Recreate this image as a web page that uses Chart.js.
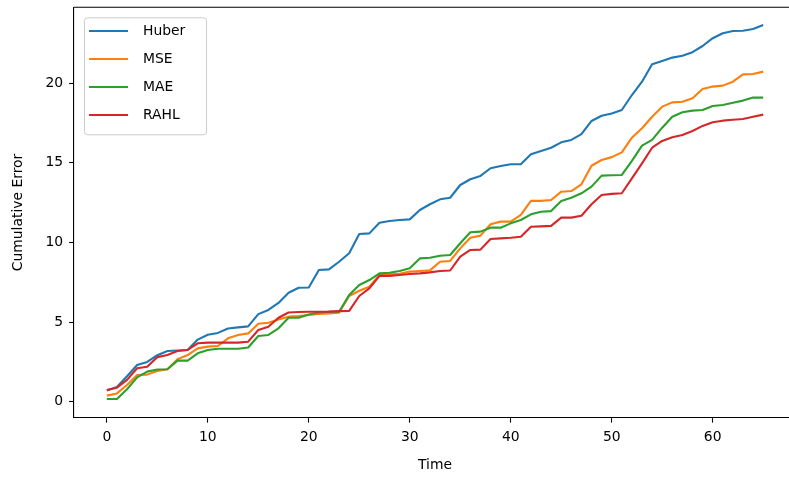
<!DOCTYPE html>
<html>
<head>
<meta charset="utf-8">
<script src="https://cdn.jsdelivr.net/npm/chart.js@4/dist/chart.umd.min.js"></script>
<style>
  html, body { margin: 0; padding: 0; background: #fff; overflow: hidden; }
  #wrap { width: 789px; height: 479px; position: relative; overflow: hidden; }
  #c { position: absolute; left: 0; top: 0; }
</style>
</head>
<body>
<div id="wrap"><canvas id="c" width="800" height="479"></canvas></div>
<script>
const time = [0,1,2,3,4,5,6,7,8,9,10,11,12,13,14,15,16,17,18,19,20,21,22,23,24,25,26,27,28,29,30,31,32,33,34,35,36,37,38,39,40,41,42,43,44,45,46,47,48,49,50,51,52,53,54,55,56,57,58,59,60,61,62,63,64,65];

const huber = [0.70,0.92,1.60,2.30,2.50,2.92,3.18,3.22,3.25,3.90,4.20,4.32,4.60,4.67,4.73,5.50,5.76,6.20,6.84,7.16,7.17,8.27,8.31,8.79,9.32,10.53,10.57,11.24,11.35,11.41,11.45,12.04,12.40,12.71,12.81,13.61,13.97,14.18,14.66,14.80,14.91,14.92,15.54,15.75,15.95,16.29,16.44,16.80,17.63,17.96,18.10,18.32,19.26,20.10,21.19,21.40,21.61,21.73,21.95,22.34,22.83,23.14,23.28,23.30,23.41,23.66];

const mse = [0.38,0.52,1.05,1.68,1.70,1.93,2.04,2.67,2.93,3.35,3.46,3.50,3.98,4.19,4.29,4.90,4.96,5.17,5.34,5.38,5.45,5.51,5.55,5.59,6.64,6.97,7.22,7.96,8.00,8.04,8.17,8.21,8.25,8.79,8.84,9.63,10.30,10.43,11.14,11.31,11.31,11.73,12.61,12.61,12.67,13.19,13.23,13.65,14.82,15.18,15.36,15.66,16.58,17.17,17.90,18.53,18.80,18.84,19.06,19.64,19.79,19.85,20.10,20.56,20.58,20.73];

const mae = [0.17,0.17,0.78,1.53,1.89,2.02,2.04,2.58,2.58,3.04,3.25,3.33,3.33,3.33,3.40,4.13,4.19,4.61,5.27,5.27,5.48,5.60,5.65,5.65,6.70,7.33,7.64,8.06,8.10,8.21,8.38,9.00,9.04,9.17,9.21,9.95,10.64,10.68,10.93,10.93,11.20,11.41,11.77,11.93,11.97,12.61,12.81,13.09,13.51,14.20,14.22,14.24,15.12,16.08,16.44,17.21,17.90,18.18,18.28,18.32,18.57,18.63,18.78,18.91,19.10,19.10];

const rahl = [0.73,0.88,1.37,2.10,2.20,2.80,2.93,3.18,3.25,3.67,3.71,3.71,3.71,3.71,3.77,4.50,4.71,5.27,5.60,5.63,5.65,5.65,5.66,5.69,5.70,6.64,7.12,7.90,7.90,7.96,8.02,8.06,8.12,8.21,8.24,9.11,9.53,9.55,10.22,10.26,10.30,10.36,10.99,11.01,11.04,11.56,11.56,11.68,12.40,12.98,13.05,13.09,14.03,14.97,15.95,16.38,16.61,16.75,17.00,17.32,17.55,17.65,17.71,17.75,17.90,18.03];

const seriesNames = ['Huber', 'MSE', 'MAE', 'RAHL'];
const seriesColors = ['#1f77b4', '#ff7f0e', '#2ca02c', '#d62728'];
const xTickValues = [0, 10, 20, 30, 40, 50, 60];
const yTickValues = [0, 5, 10, 15, 20];
const xTitle = 'Time';
const yTitle = 'Cumulative Error';

const FONT = 'DejaVu Sans';
const FS = 13.9;

const allSeries = [huber, mse, mae, rahl];
const datasets = allSeries.map((arr, k) => ({
  label: seriesNames[k],
  data: arr.map((v, i) => ({ x: time[i], y: v })),
  borderColor: seriesColors[k],
  backgroundColor: seriesColors[k],
  borderWidth: 2.1,
  pointRadius: 0,
  tension: 0,
  fill: false,
  borderJoinStyle: 'round',
  borderCapStyle: 'butt',
  order: allSeries.length - 1 - k
}));

const framePlugin = {
  id: 'frame',
  afterDatasetsDraw(chart) {
    const { ctx, chartArea } = chart;
    ctx.save();
    // top spine
    ctx.strokeStyle = '#000';
    ctx.lineWidth = 1.1;
    ctx.beginPath();
    ctx.moveTo(chartArea.left, chartArea.top);
    ctx.lineTo(chartArea.right, chartArea.top);
    ctx.stroke();

    // legend
    const bx = 84, by = 17.3, bw = 122, bh = 117, r = 3;
    ctx.globalAlpha = 0.8;
    ctx.fillStyle = '#fff';
    ctx.beginPath();
    ctx.roundRect(bx, by, bw, bh, r);
    ctx.fill();
    ctx.globalAlpha = 1;
    ctx.strokeStyle = '#cccccc';
    ctx.lineWidth = 1;
    ctx.beginPath();
    ctx.roundRect(bx + 0.5, by + 0.5, bw, bh, r);
    ctx.stroke();

    ctx.font = FS + 'px "' + FONT + '"';
    ctx.textBaseline = 'middle';
    ctx.textAlign = 'left';
    chart.data.datasets.forEach((ds, k) => {
      const y = 31 + k * 28;
      ctx.strokeStyle = ds.borderColor;
      ctx.lineWidth = 2.1;
      ctx.beginPath();
      ctx.moveTo(89, y);
      ctx.lineTo(128, y);
      ctx.stroke();
      ctx.fillStyle = '#000';
      ctx.fillText(ds.label, 143, y + 0.5);
    });
    ctx.restore();
  }
};

Chart.defaults.font.family = FONT;
Chart.defaults.font.size = FS;
Chart.defaults.color = '#000';

new Chart(document.getElementById('c'), {
  type: 'line',
  data: { datasets },
  plugins: [framePlugin],
  options: {
    responsive: false,
    animation: false,
    events: [],
    layout: { padding: { top: 7.3, right: 4, left: 0, bottom: 0 } },
    plugins: { legend: { display: false }, tooltip: { enabled: false } },
    scales: {
      x: {
        type: 'linear',
        position: 'bottom',
        min: -3.25,
        max: 68.25,
        afterBuildTicks: (s) => { s.ticks = xTickValues.map(v => ({ value: v })); },
        afterFit: (s) => { s.height = 61.3; s.paddingLeft = 0; s.paddingRight = 0; },
        ticks: { padding: 6.5, font: { size: FS }, color: '#000', maxRotation: 0, autoSkip: false, includeBounds: false },
        grid: { display: true, drawOnChartArea: false, drawTicks: true, tickLength: 4.9, tickWidth: 1.1, tickColor: '#000' },
        border: { display: true, color: '#000', width: 1.1 },
        title: { display: true, text: xTitle, font: { size: FS }, color: '#000', padding: { top: 0, bottom: 5 } }
      },
      y: {
        type: 'linear',
        position: 'left',
        min: -1.005,
        max: 24.77,
        afterBuildTicks: (s) => { s.ticks = yTickValues.map(v => ({ value: v })); },
        afterFit: (s) => { s.width = 74; s.paddingTop = 0; s.paddingBottom = 0; },
        ticks: { padding: 6, font: { size: FS }, color: '#000', autoSkip: false, includeBounds: false },
        grid: { display: true, drawOnChartArea: false, drawTicks: true, tickLength: 4.9, tickWidth: 1.1, tickColor: '#000' },
        border: { display: true, color: '#000', width: 1.1 },
        title: { display: true, text: yTitle, font: { size: FS }, color: '#000', padding: { top: 10, bottom: 0 } }
      }
    }
  }
});
</script>
</body>
</html>
